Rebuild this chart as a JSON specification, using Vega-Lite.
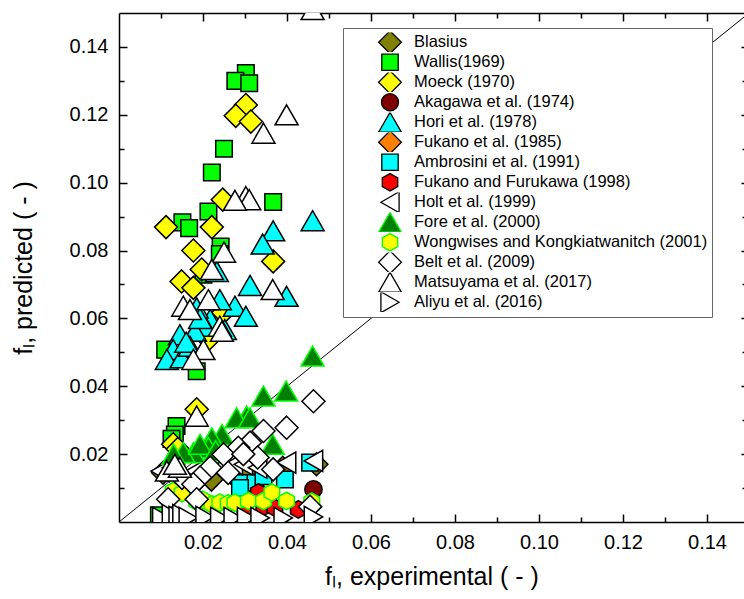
{
  "$schema": "https://vega.github.io/schema/vega-lite/v6.json",
  "width": 625,
  "height": 509,
  "autosize": {"type": "none"},
  "padding": {"left": 119, "top": 13, "right": 0, "bottom": 77},
  "background": "white",
  "config": {
    "font": "Liberation Sans",
    "view": {"stroke": null},
    "axis": {"grid": false, "tickColor": "black", "tickWidth": 1.5, "domainColor": "black", "domainWidth": 1.5, "labelColor": "black", "titleColor": "black", "labelFont": "Liberation Sans", "titleFont": "Liberation Sans", "labelFontSize": 20, "titleFontSize": 25, "titleFontWeight": "normal"}
  },
  "datasets": {
    "diag": [{"x": 0, "y": 0}, {"x": 0.15, "y": 0.15}],
    "pts": [
      {"Study": "Blasius", "xe": 0.0105, "yp": 0.0145},
      {"Study": "Blasius", "xe": 0.0185, "yp": 0.013},
      {"Study": "Blasius", "xe": 0.022, "yp": 0.0125},
      {"Study": "Blasius", "xe": 0.0275, "yp": 0.0135},
      {"Study": "Blasius", "xe": 0.030, "yp": 0.014},
      {"Study": "Blasius", "xe": 0.0335, "yp": 0.0155},
      {"Study": "Blasius", "xe": 0.039, "yp": 0.016},
      {"Study": "Blasius", "xe": 0.047, "yp": 0.017},
      {"Study": "Blasius", "xe": 0.0455, "yp": 0.0045},
      {"Study": "Wallis(1969)", "xe": 0.0302, "yp": 0.1323},
      {"Study": "Wallis(1969)", "xe": 0.0277, "yp": 0.1300},
      {"Study": "Wallis(1969)", "xe": 0.0310, "yp": 0.1293},
      {"Study": "Wallis(1969)", "xe": 0.0250, "yp": 0.1100},
      {"Study": "Wallis(1969)", "xe": 0.0221, "yp": 0.1030},
      {"Study": "Wallis(1969)", "xe": 0.0367, "yp": 0.0943},
      {"Study": "Wallis(1969)", "xe": 0.0213, "yp": 0.0915},
      {"Study": "Wallis(1969)", "xe": 0.0151, "yp": 0.0883},
      {"Study": "Wallis(1969)", "xe": 0.0167, "yp": 0.0866},
      {"Study": "Wallis(1969)", "xe": 0.0242, "yp": 0.0812},
      {"Study": "Wallis(1969)", "xe": 0.0240, "yp": 0.0790},
      {"Study": "Wallis(1969)", "xe": 0.0201, "yp": 0.0729},
      {"Study": "Wallis(1969)", "xe": 0.0110, "yp": 0.0508},
      {"Study": "Wallis(1969)", "xe": 0.0185, "yp": 0.0444},
      {"Study": "Wallis(1969)", "xe": 0.0137, "yp": 0.0283},
      {"Study": "Wallis(1969)", "xe": 0.0133, "yp": 0.0258},
      {"Study": "Wallis(1969)", "xe": 0.0125, "yp": 0.0245},
      {"Study": "Wallis(1969)", "xe": 0.0095, "yp": 0.0020},
      {"Study": "Moeck (1970)", "xe": 0.0302, "yp": 0.1229},
      {"Study": "Moeck (1970)", "xe": 0.0278, "yp": 0.1197},
      {"Study": "Moeck (1970)", "xe": 0.0314, "yp": 0.1180},
      {"Study": "Moeck (1970)", "xe": 0.0247, "yp": 0.0950},
      {"Study": "Moeck (1970)", "xe": 0.0112, "yp": 0.0869},
      {"Study": "Moeck (1970)", "xe": 0.0221, "yp": 0.0869},
      {"Study": "Moeck (1970)", "xe": 0.0177, "yp": 0.0800},
      {"Study": "Moeck (1970)", "xe": 0.0367, "yp": 0.0768},
      {"Study": "Moeck (1970)", "xe": 0.0197, "yp": 0.0744},
      {"Study": "Moeck (1970)", "xe": 0.0149, "yp": 0.0709},
      {"Study": "Moeck (1970)", "xe": 0.0177, "yp": 0.0690},
      {"Study": "Moeck (1970)", "xe": 0.0248, "yp": 0.0617},
      {"Study": "Moeck (1970)", "xe": 0.0213, "yp": 0.0538},
      {"Study": "Moeck (1970)", "xe": 0.0185, "yp": 0.0332},
      {"Study": "Moeck (1970)", "xe": 0.0129, "yp": 0.0229},
      {"Study": "Moeck (1970)", "xe": 0.0140, "yp": 0.0215},
      {"Study": "Akagawa et al. (1974)", "xe": 0.0463, "yp": 0.0096},
      {"Study": "Hori et al. (1978)", "xe": 0.0461, "yp": 0.0888},
      {"Study": "Hori et al. (1978)", "xe": 0.0367, "yp": 0.0858},
      {"Study": "Hori et al. (1978)", "xe": 0.0342, "yp": 0.0819},
      {"Study": "Hori et al. (1978)", "xe": 0.0312, "yp": 0.0697},
      {"Study": "Hori et al. (1978)", "xe": 0.0399, "yp": 0.0665},
      {"Study": "Hori et al. (1978)", "xe": 0.0276, "yp": 0.0636},
      {"Study": "Hori et al. (1978)", "xe": 0.0302, "yp": 0.0606},
      {"Study": "Hori et al. (1978)", "xe": 0.0240, "yp": 0.0655},
      {"Study": "Hori et al. (1978)", "xe": 0.0233, "yp": 0.0738},
      {"Study": "Hori et al. (1978)", "xe": 0.0217, "yp": 0.0597},
      {"Study": "Hori et al. (1978)", "xe": 0.0205, "yp": 0.0577},
      {"Study": "Hori et al. (1978)", "xe": 0.0181, "yp": 0.0562},
      {"Study": "Hori et al. (1978)", "xe": 0.0145, "yp": 0.0552},
      {"Study": "Hori et al. (1978)", "xe": 0.0129, "yp": 0.0508},
      {"Study": "Hori et al. (1978)", "xe": 0.0114, "yp": 0.0479},
      {"Study": "Hori et al. (1978)", "xe": 0.0149, "yp": 0.0484},
      {"Study": "Hori et al. (1978)", "xe": 0.0169, "yp": 0.0518},
      {"Study": "Hori et al. (1978)", "xe": 0.0185, "yp": 0.0631},
      {"Study": "Hori et al. (1978)", "xe": 0.0252, "yp": 0.0567},
      {"Study": "Hori et al. (1978)", "xe": 0.0193, "yp": 0.0600},
      {"Study": "Hori et al. (1978)", "xe": 0.0160, "yp": 0.0530},
      {"Study": "Fukano et al. (1985)", "xe": 0.0260, "yp": 0.0145},
      {"Study": "Fukano et al. (1985)", "xe": 0.0217, "yp": 0.0160},
      {"Study": "Ambrosini et al. (1991)", "xe": 0.0295, "yp": 0.0115},
      {"Study": "Ambrosini et al. (1991)", "xe": 0.0325, "yp": 0.0115},
      {"Study": "Ambrosini et al. (1991)", "xe": 0.0288, "yp": 0.0100},
      {"Study": "Ambrosini et al. (1991)", "xe": 0.0344, "yp": 0.0135},
      {"Study": "Ambrosini et al. (1991)", "xe": 0.0395, "yp": 0.0125},
      {"Study": "Ambrosini et al. (1991)", "xe": 0.0455, "yp": 0.0175},
      {"Study": "Fukano and Furukawa (1998)", "xe": 0.0332, "yp": 0.0087},
      {"Study": "Fukano and Furukawa (1998)", "xe": 0.0345, "yp": 0.0045},
      {"Study": "Fukano and Furukawa (1998)", "xe": 0.0371, "yp": 0.0042},
      {"Study": "Fukano and Furukawa (1998)", "xe": 0.0427, "yp": 0.0037},
      {"Study": "Fukano and Furukawa (1998)", "xe": 0.0300, "yp": 0.0040},
      {"Study": "Holt et al. (1999)", "xe": 0.0098, "yp": 0.0150},
      {"Study": "Holt et al. (1999)", "xe": 0.0125, "yp": 0.0160},
      {"Study": "Holt et al. (1999)", "xe": 0.0180, "yp": 0.0150},
      {"Study": "Holt et al. (1999)", "xe": 0.0240, "yp": 0.0160},
      {"Study": "Holt et al. (1999)", "xe": 0.0272, "yp": 0.0170},
      {"Study": "Holt et al. (1999)", "xe": 0.0296, "yp": 0.0170},
      {"Study": "Holt et al. (1999)", "xe": 0.0330, "yp": 0.0160},
      {"Study": "Holt et al. (1999)", "xe": 0.0399, "yp": 0.0175},
      {"Study": "Holt et al. (1999)", "xe": 0.0463, "yp": 0.0180},
      {"Study": "Fore et al. (2000)", "xe": 0.0461, "yp": 0.0489},
      {"Study": "Fore et al. (2000)", "xe": 0.0398, "yp": 0.0386},
      {"Study": "Fore et al. (2000)", "xe": 0.0344, "yp": 0.0371},
      {"Study": "Fore et al. (2000)", "xe": 0.0304, "yp": 0.0312},
      {"Study": "Fore et al. (2000)", "xe": 0.0280, "yp": 0.0307},
      {"Study": "Fore et al. (2000)", "xe": 0.0312, "yp": 0.0307},
      {"Study": "Fore et al. (2000)", "xe": 0.0245, "yp": 0.0258},
      {"Study": "Fore et al. (2000)", "xe": 0.0221, "yp": 0.0248},
      {"Study": "Fore et al. (2000)", "xe": 0.0366, "yp": 0.0229},
      {"Study": "Fore et al. (2000)", "xe": 0.0213, "yp": 0.0219},
      {"Study": "Fore et al. (2000)", "xe": 0.0177, "yp": 0.0204},
      {"Study": "Fore et al. (2000)", "xe": 0.0153, "yp": 0.0205},
      {"Study": "Fore et al. (2000)", "xe": 0.0193, "yp": 0.0229},
      {"Study": "Fore et al. (2000)", "xe": 0.0230, "yp": 0.0210},
      {"Study": "Fore et al. (2000)", "xe": 0.0130, "yp": 0.0200},
      {"Study": "Wongwises and Kongkiatwanitch (2001)", "xe": 0.0129, "yp": 0.0091},
      {"Study": "Wongwises and Kongkiatwanitch (2001)", "xe": 0.0150, "yp": 0.0085},
      {"Study": "Wongwises and Kongkiatwanitch (2001)", "xe": 0.0185, "yp": 0.0060},
      {"Study": "Wongwises and Kongkiatwanitch (2001)", "xe": 0.0200, "yp": 0.0065},
      {"Study": "Wongwises and Kongkiatwanitch (2001)", "xe": 0.0221, "yp": 0.0052},
      {"Study": "Wongwises and Kongkiatwanitch (2001)", "xe": 0.0240, "yp": 0.0057},
      {"Study": "Wongwises and Kongkiatwanitch (2001)", "xe": 0.0260, "yp": 0.0055},
      {"Study": "Wongwises and Kongkiatwanitch (2001)", "xe": 0.0276, "yp": 0.0057},
      {"Study": "Wongwises and Kongkiatwanitch (2001)", "xe": 0.0308, "yp": 0.0062},
      {"Study": "Wongwises and Kongkiatwanitch (2001)", "xe": 0.0344, "yp": 0.0062},
      {"Study": "Wongwises and Kongkiatwanitch (2001)", "xe": 0.0364, "yp": 0.0087},
      {"Study": "Wongwises and Kongkiatwanitch (2001)", "xe": 0.0399, "yp": 0.0062},
      {"Study": "Wongwises and Kongkiatwanitch (2001)", "xe": 0.0459, "yp": 0.0060},
      {"Study": "Belt et al. (2009)", "xe": 0.0463, "yp": 0.0356},
      {"Study": "Belt et al. (2009)", "xe": 0.0399, "yp": 0.0278},
      {"Study": "Belt et al. (2009)", "xe": 0.0344, "yp": 0.0268},
      {"Study": "Belt et al. (2009)", "xe": 0.0312, "yp": 0.0234},
      {"Study": "Belt et al. (2009)", "xe": 0.0284, "yp": 0.0219},
      {"Study": "Belt et al. (2009)", "xe": 0.0249, "yp": 0.0199},
      {"Study": "Belt et al. (2009)", "xe": 0.0330, "yp": 0.0190},
      {"Study": "Belt et al. (2009)", "xe": 0.0296, "yp": 0.0200},
      {"Study": "Belt et al. (2009)", "xe": 0.0217, "yp": 0.0160},
      {"Study": "Belt et al. (2009)", "xe": 0.0260, "yp": 0.0145},
      {"Study": "Belt et al. (2009)", "xe": 0.0367, "yp": 0.0155},
      {"Study": "Belt et al. (2009)", "xe": 0.0193, "yp": 0.0131},
      {"Study": "Belt et al. (2009)", "xe": 0.0150, "yp": 0.0130},
      {"Study": "Belt et al. (2009)", "xe": 0.0177, "yp": 0.0111},
      {"Study": "Belt et al. (2009)", "xe": 0.0117, "yp": 0.0067},
      {"Study": "Belt et al. (2009)", "xe": 0.0185, "yp": 0.0067},
      {"Study": "Belt et al. (2009)", "xe": 0.0455, "yp": 0.0045},
      {"Study": "Matsuyama et al. (2017)", "xe": 0.0461, "yp": 0.1510},
      {"Study": "Matsuyama et al. (2017)", "xe": 0.0399, "yp": 0.1200},
      {"Study": "Matsuyama et al. (2017)", "xe": 0.0344, "yp": 0.1146},
      {"Study": "Matsuyama et al. (2017)", "xe": 0.0302, "yp": 0.0959},
      {"Study": "Matsuyama et al. (2017)", "xe": 0.0310, "yp": 0.0950},
      {"Study": "Matsuyama et al. (2017)", "xe": 0.0276, "yp": 0.0948},
      {"Study": "Matsuyama et al. (2017)", "xe": 0.0250, "yp": 0.0795},
      {"Study": "Matsuyama et al. (2017)", "xe": 0.0221, "yp": 0.0744},
      {"Study": "Matsuyama et al. (2017)", "xe": 0.0366, "yp": 0.0685},
      {"Study": "Matsuyama et al. (2017)", "xe": 0.0213, "yp": 0.0655},
      {"Study": "Matsuyama et al. (2017)", "xe": 0.0153, "yp": 0.0636},
      {"Study": "Matsuyama et al. (2017)", "xe": 0.0169, "yp": 0.0626},
      {"Study": "Matsuyama et al. (2017)", "xe": 0.0240, "yp": 0.0577},
      {"Study": "Matsuyama et al. (2017)", "xe": 0.0245, "yp": 0.0562},
      {"Study": "Matsuyama et al. (2017)", "xe": 0.0201, "yp": 0.0508},
      {"Study": "Matsuyama et al. (2017)", "xe": 0.0177, "yp": 0.0479},
      {"Study": "Matsuyama et al. (2017)", "xe": 0.0185, "yp": 0.0312},
      {"Study": "Matsuyama et al. (2017)", "xe": 0.0114, "yp": 0.0150},
      {"Study": "Matsuyama et al. (2017)", "xe": 0.0145, "yp": 0.0161},
      {"Study": "Matsuyama et al. (2017)", "xe": 0.0133, "yp": 0.0170},
      {"Study": "Aliyu et al. (2016)", "xe": 0.0102, "yp": 0.0012},
      {"Study": "Aliyu et al. (2016)", "xe": 0.0125, "yp": 0.0020},
      {"Study": "Aliyu et al. (2016)", "xe": 0.0141, "yp": 0.0015},
      {"Study": "Aliyu et al. (2016)", "xe": 0.0150, "yp": 0.0020},
      {"Study": "Aliyu et al. (2016)", "xe": 0.0165, "yp": 0.0012},
      {"Study": "Aliyu et al. (2016)", "xe": 0.0205, "yp": 0.0015},
      {"Study": "Aliyu et al. (2016)", "xe": 0.0240, "yp": 0.0012},
      {"Study": "Aliyu et al. (2016)", "xe": 0.0272, "yp": 0.0012},
      {"Study": "Aliyu et al. (2016)", "xe": 0.0304, "yp": 0.0012},
      {"Study": "Aliyu et al. (2016)", "xe": 0.0336, "yp": 0.0012},
      {"Study": "Aliyu et al. (2016)", "xe": 0.0391, "yp": 0.0012},
      {"Study": "Aliyu et al. (2016)", "xe": 0.0463, "yp": 0.0015}
    ]
  },
  "layer": [
    {
      "data": {"name": "diag"},
      "mark": {"type": "line", "color": "black", "strokeWidth": 1, "clip": true},
      "encoding": {
        "x": {"field": "x", "type": "quantitative", "scale": {"domain": [0, 0.14881], "nice": false, "zero": false},
          "axis": {"orient": "bottom", "values": [0.02, 0.04, 0.06, 0.08, 0.10, 0.12, 0.14], "format": ".2f", "tickSize": -8, "labelPadding": 18, "domain": true, "title": "fₗ, experimental ( - )", "titlePadding": 12}},
        "y": {"field": "y", "type": "quantitative", "scale": {"domain": [0, 0.15], "nice": false, "zero": false},
          "axis": {"orient": "left", "values": [0.02, 0.04, 0.06, 0.08, 0.10, 0.12, 0.14], "format": ".2f", "tickSize": -8, "labelPadding": 19, "domain": true, "title": "fₗ, predicted ( - )", "titlePadding": 33}}
      }
    },
    {
      "data": {"name": "pts"},
      "mark": {"type": "point", "filled": true, "size": 313, "strokeWidth": 1.5, "opacity": 1, "clip": true},
      "encoding": {
        "x": {"field": "xe", "type": "quantitative",
          "axis": {"orient": "top", "values": [0.02, 0.04, 0.06, 0.08, 0.10, 0.12, 0.14], "labels": false, "tickSize": -8, "domain": true, "title": null}},
        "y": {"field": "yp", "type": "quantitative",
          "axis": {"orient": "right", "values": [0.02, 0.04, 0.06, 0.08, 0.10, 0.12, 0.14], "labels": false, "tickSize": -3, "domain": false, "title": null}},
        "shape": {"field": "Study", "type": "nominal",
          "scale": {"domain": ["Blasius", "Wallis(1969)", "Moeck (1970)", "Akagawa et al. (1974)", "Hori et al. (1978)", "Fukano et al. (1985)", "Ambrosini et al. (1991)", "Fukano and Furukawa (1998)", "Holt et al. (1999)", "Fore et al. (2000)", "Wongwises and Kongkiatwanitch (2001)", "Belt et al. (2009)", "Matsuyama et al. (2017)", "Aliyu et al. (2016)"],
            "range": ["M0,-1.3L1.3,0L0,1.3L-1.3,0Z", "M-0.936,-0.936L0.936,-0.936L0.936,0.936L-0.936,0.936Z", "M0,-1.3L1.3,0L0,1.3L-1.3,0Z", "M-0.975,0A0.975,0.975,0,1,1,0.975,0A0.975,0.975,0,1,1,-0.975,0Z", "M0,-1.131L1.3,1.131L-1.3,1.131Z", "M0,-1.3L1.3,0L0,1.3L-1.3,0Z", "M-0.936,-0.936L0.936,-0.936L0.936,0.936L-0.936,0.936Z", "M0,-0.988L0.884,-0.494L0.884,0.494L0,0.988L-0.884,0.494L-0.884,-0.494Z", "M-1.04,0L1.04,-1.196L1.04,1.196Z", "M0,-1.131L1.3,1.131L-1.3,1.131Z", "M0,-0.988L0.884,-0.494L0.884,0.494L0,0.988L-0.884,0.494L-0.884,-0.494Z", "M0,-1.3L1.3,0L0,1.3L-1.3,0Z", "M0,-1.131L1.3,1.131L-1.3,1.131Z", "M1.04,0L-1.04,-1.196L-1.04,1.196Z"]},
          "legend": {"title": null, "orient": "none", "legendX": 224, "legendY": 15, "strokeColor": "#666666", "fillColor": "white", "padding": 4.5, "labelFont": "Liberation Sans", "labelFontSize": 16.5, "labelColor": "black", "symbolSize": 306, "symbolStrokeWidth": 1.3, "symbolOffset": 33, "labelOffset": 14.5, "rowPadding": 0, "clipHeight": 19.5, "labelLimit": 500, "labelExpr": "datum.label + '\u00a0\u00a0\u00a0\u00a0\u00a0\u00a0\u00a0\u00a0\u00a0\u00a0'"}},
        "fill": {"field": "Study", "type": "nominal",
          "scale": {"domain": ["Blasius", "Wallis(1969)", "Moeck (1970)", "Akagawa et al. (1974)", "Hori et al. (1978)", "Fukano et al. (1985)", "Ambrosini et al. (1991)", "Fukano and Furukawa (1998)", "Holt et al. (1999)", "Fore et al. (2000)", "Wongwises and Kongkiatwanitch (2001)", "Belt et al. (2009)", "Matsuyama et al. (2017)", "Aliyu et al. (2016)"],
            "range": ["#808000", "#00FF00", "#FFFF00", "#800000", "#00FFFF", "#FF8000", "#00FFFF", "#FF0000", "#FFFFFF", "#008000", "#FFFF00", "#FFFFFF", "#FFFFFF", "#FFFFFF"]}},
        "stroke": {"field": "Study", "type": "nominal",
          "scale": {"domain": ["Blasius", "Wallis(1969)", "Moeck (1970)", "Akagawa et al. (1974)", "Hori et al. (1978)", "Fukano et al. (1985)", "Ambrosini et al. (1991)", "Fukano and Furukawa (1998)", "Holt et al. (1999)", "Fore et al. (2000)", "Wongwises and Kongkiatwanitch (2001)", "Belt et al. (2009)", "Matsuyama et al. (2017)", "Aliyu et al. (2016)"],
            "range": ["#000000", "#000000", "#000000", "#000000", "#000000", "#000000", "#000000", "#000000", "#000000", "#00FF00", "#00FF00", "#000000", "#000000", "#000000"]}}
      }
    },
    {
      "data": {"name": "diag"},
      "mark": {"type": "point", "opacity": 0, "size": 0},
      "encoding": {
        "x": {"field": "x", "type": "quantitative",
          "axis": {"orient": "bottom", "values": [0.01, 0.03, 0.05, 0.07, 0.09, 0.11, 0.13], "labels": false, "tickSize": -5, "domain": false, "title": null}},
        "y": {"field": "y", "type": "quantitative",
          "axis": {"orient": "left", "values": [0.01, 0.03, 0.05, 0.07, 0.09, 0.11, 0.13], "labels": false, "tickSize": -5, "domain": false, "title": null}}
      }
    },
    {
      "data": {"name": "diag"},
      "mark": {"type": "point", "opacity": 0, "size": 0},
      "encoding": {
        "x": {"field": "x", "type": "quantitative",
          "axis": {"orient": "top", "values": [0.01, 0.03, 0.05, 0.07, 0.09, 0.11, 0.13], "labels": false, "tickSize": -5, "domain": false, "title": null}},
        "y": {"field": "y", "type": "quantitative",
          "axis": {"orient": "right", "values": [0.01, 0.03, 0.05, 0.07, 0.09, 0.11, 0.13], "labels": false, "tickSize": -2, "domain": false, "title": null}}
      }
    }
  ],
  "resolve": {"axis": {"x": "independent", "y": "independent"}}
}
